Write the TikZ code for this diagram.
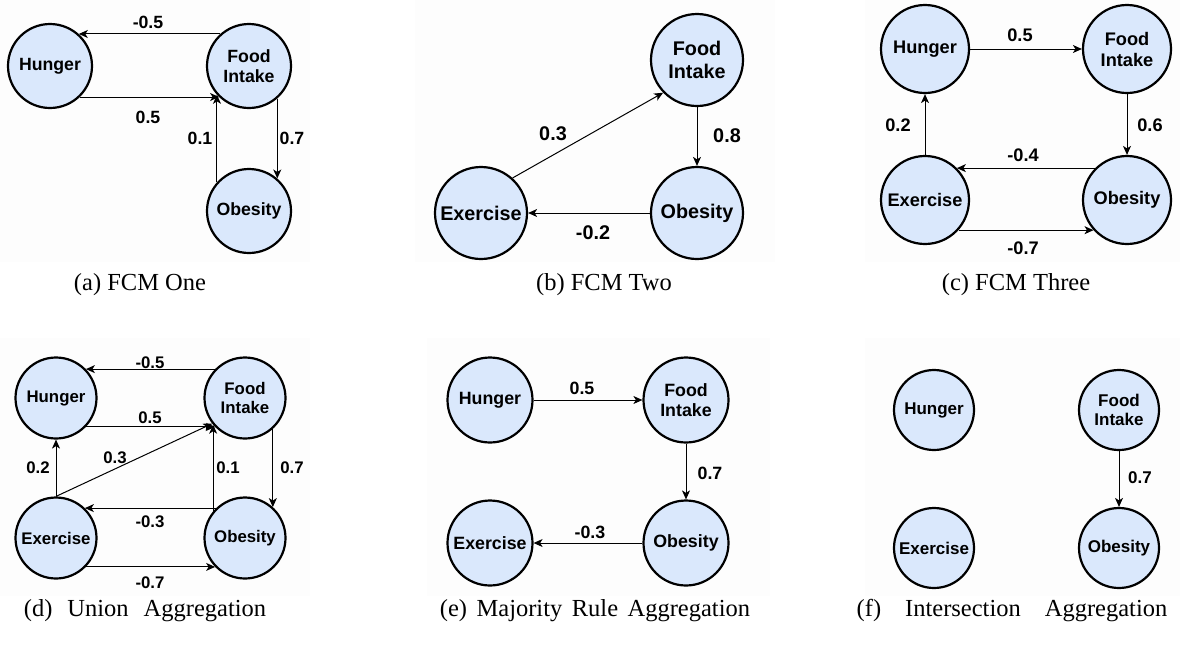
\documentclass[tikz,border=0pt]{standalone}
\usepackage{fontspec}
\setmainfont{Liberation Serif}
\newfontfamily\arialfont{Liberation Sans}
\usetikzlibrary{arrows.meta}
\definecolor{nodefill}{HTML}{DAE8FC}
\definecolor{panelbg}{HTML}{FDFDFD}
\tikzset{
  concept/.style={circle, draw=black, line width=2.2pt, fill=nodefill, inner sep=0pt,
    align=center, minimum size=\pcsize, font=\pcfont},
  link/.style={line width=1pt, draw=black, -{Stealth[length=9pt,width=8pt,inset=2.5pt]}},
  wlabel/.style={font=\pcfont, inner sep=0pt},
  captext/.style={font=\fontsize{24.5}{28}\selectfont, inner sep=0pt},
  panelbox/.style={fill=panelbg, draw=none}
}
\begin{document}
\begin{tikzpicture}[x=1pt,y=-1pt]
\useasboundingbox (0,0) rectangle (1180,646);
\fill[white] (0,0) rectangle (1180,646);
% panel backgrounds
\path[panelbox] (0,0) rectangle (310,262);
\path[panelbox] (415,0) rectangle (775,262);
\path[panelbox] (865,0) rectangle (1180,262);
\path[panelbox] (0,338) rectangle (310,596);
\path[panelbox] (427,338) rectangle (770,596);
\path[panelbox] (865,338) rectangle (1180,596);

% ---------- (a) FCM One ----------
\begin{scope}
\def\pcsize{84pt}\def\pcfont{\arialfont\bfseries\fontsize{17.7}{20.5}\selectfont}
\node[concept] (a-h) at (50,66) {Hunger};
\node[concept] (a-fi) at (249,66) {Food\\Intake};
\node[concept] (a-o) at (249,211) {Obesity};
\draw[link] (a-fi.132) -- (a-h.48);
\draw[link] (a-h.-46) -- (a-fi.226);
\draw[link] (a-o.138) -- (a-fi.222);
\draw[link] (a-fi.-49) -- (a-o.49);
\node[wlabel] (a-l1) at (148,22) {-0.5};
\node[wlabel] (a-l2) at (148,117) {0.5};
\node[wlabel] (a-l3) at (200,138) {0.1};
\node[wlabel] (a-l4) at (292,138) {0.7};
\node[captext] (a-cap) at (140,285) {(a) FCM One};
\end{scope}

% ---------- (b) FCM Two ----------
\begin{scope}
\def\pcsize{92pt}\def\pcfont{\arialfont\bfseries\fontsize{19.8}{22.5}\selectfont}
\node[concept] (b-fi) at (697,60) {Food\\Intake};
\node[concept] (b-o) at (697,213) {Obesity};
\node[concept] (b-e) at (481,213) {Exercise};
\draw[link] (b-e.48) -- (b-fi.224);
\draw[link] (b-fi.south) -- (b-o.north);
\draw[link] (b-o.west) -- (b-e.east);
\node[wlabel] (b-l1) at (553,134) {0.3};
\node[wlabel] (b-l2) at (727,136) {0.8};
\node[wlabel] (b-l3) at (593,233) {-0.2};
\node[captext] (b-cap) at (604,285) {(b) FCM Two};
\end{scope}

% ---------- (c) FCM Three ----------
\begin{scope}
\def\pcsize{88pt}\def\pcfont{\arialfont\bfseries\fontsize{18.2}{21}\selectfont}
\node[concept] (c-h) at (925,49) {Hunger};
\node[concept] (c-fi) at (1127,49) {Food\\Intake};
\node[concept] (c-e) at (925,200) {Exercise};
\node[concept] (c-o) at (1127,200) {Obesity};
\draw[link] (c-h.east) -- (c-fi.west);
\draw[link] (c-fi.south) -- (c-o.north);
\draw[link] (c-o.135) -- (c-e.45);
\draw[link] (c-e.-42) -- (c-o.222);
\draw[link] (c-e.north) -- (c-h.south);
\node[wlabel] (c-l1) at (1020,35) {0.5};
\node[wlabel] (c-l2) at (1150,125) {0.6};
\node[wlabel] (c-l3) at (1023,155) {-0.4};
\node[wlabel] (c-l4) at (1023,248) {-0.7};
\node[wlabel] (c-l5) at (898,125) {0.2};
\node[captext] (c-cap) at (1016,285) {(c) FCM Three};
\end{scope}

% ---------- (d) Union Aggregation ----------
\begin{scope}
\def\pcsize{81pt}\def\pcfont{\arialfont\bfseries\fontsize{16.8}{19.5}\selectfont}
\node[concept] (d-h) at (56,398) {Hunger};
\node[concept] (d-fi) at (245,398) {Food\\Intake};
\node[concept] (d-e) at (56,538) {Exercise};
\node[concept] (d-o) at (245,538) {Obesity};
\draw[link] (d-fi.136) -- (d-h.44);
\draw[link] (d-h.-44) -- (d-fi.224);
\draw[link] (d-e.north) -- (d-fi.218);
\draw[link] (d-e.north) -- (d-h.south);
\draw[link] (d-o.140) -- (d-fi.220);
\draw[link] (d-fi.-48) -- (d-o.48);
\draw[link] (d-o.134) -- (d-e.46);
\draw[link] (d-e.-44) -- (d-o.224);
\node[wlabel] (d-l1) at (150,363) {-0.5};
\node[wlabel] (d-l2) at (150,418) {0.5};
\node[wlabel] (d-l3) at (115,458) {0.3};
\node[wlabel] (d-l4) at (38,468) {0.2};
\node[wlabel] (d-l5) at (228,468) {0.1};
\node[wlabel] (d-l6) at (292,468) {0.7};
\node[wlabel] (d-l7) at (150,522) {-0.3};
\node[wlabel] (d-l8) at (150,583) {-0.7};
\node[captext] (d-cap) at (145,611) {(d)\hspace{15pt}Union\hspace{15pt}Aggregation};
\end{scope}

% ---------- (e) Majority Rule Aggregation ----------
\begin{scope}
\def\pcsize{85pt}\def\pcfont{\arialfont\bfseries\fontsize{17.8}{20.5}\selectfont}
\node[concept] (e-h) at (490,400) {Hunger};
\node[concept] (e-fi) at (686,400) {Food\\Intake};
\node[concept] (e-e) at (490,543) {Exercise};
\node[concept] (e-o) at (686,543) {Obesity};
\draw[link] (e-h.east) -- (e-fi.west);
\draw[link] (e-fi.south) -- (e-o.north);
\draw[link] (e-o.west) -- (e-e.east);
\node[wlabel] (e-l1) at (582,388) {0.5};
\node[wlabel] (e-l2) at (710,473) {0.7};
\node[wlabel] (e-l3) at (590,532) {-0.3};
\node[captext] (e-cap) at (595,611) {(e)\hspace{9.5pt}Majority\hspace{9.5pt}Rule\hspace{9.5pt}Aggregation};
\end{scope}

% ---------- (f) Intersection Aggregation ----------
\begin{scope}
\def\pcsize{80pt}\def\pcfont{\arialfont\bfseries\fontsize{17}{19.8}\selectfont}
\node[concept] (f-h) at (934,410) {Hunger};
\node[concept] (f-fi) at (1119,410) {Food\\Intake};
\node[concept] (f-e) at (934,548) {Exercise};
\node[concept] (f-o) at (1119,548) {Obesity};
\draw[link] (f-fi.south) -- (f-o.north);
\node[wlabel] (f-l1) at (1140,478) {0.7};
\node[captext] (f-cap) at (1012,611) {(f)\hspace{24pt}Intersection\hspace{24pt}Aggregation};
\end{scope}
\end{tikzpicture}
\end{document}
